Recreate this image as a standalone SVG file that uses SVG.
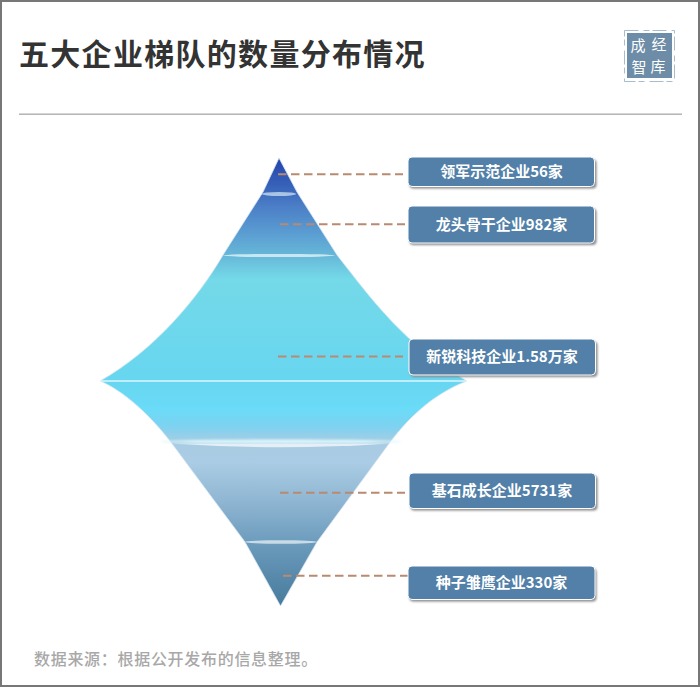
<svg xmlns="http://www.w3.org/2000/svg" width="700" height="687" viewBox="0 0 700 687">
<style>
text{font-family:"Noto Sans CJK SC","Liberation Sans",sans-serif}
.lb{fill:#fff;font-size:15px;font-weight:700;text-anchor:middle}
.box{fill:#5280a8;stroke:#fff;stroke-width:1}
.sh{fill:#8a8a8a;filter:url(#b)}
.cn{stroke:#b98a70;stroke-width:2;stroke-dasharray:8.500 4.500;fill:none}
.seal{fill:#fff;font-size:15px;text-anchor:middle}
</style>
<defs>
<filter id="b" x="-10%" y="-30%" width="120%" height="160%"><feGaussianBlur stdDeviation="0.8"/></filter>
<filter id="b2" x="-10%" y="-200%" width="120%" height="500%"><feGaussianBlur stdDeviation="0.8"/></filter>
<linearGradient id="g" gradientUnits="userSpaceOnUse" x1="0" y1="158" x2="0" y2="606">
<stop offset="0" stop-color="#2344ab"/>
<stop offset="0.07" stop-color="#3a66bb"/>
<stop offset="0.105" stop-color="#4a7dc6"/>
<stop offset="0.17" stop-color="#5b9ed2"/>
<stop offset="0.215" stop-color="#66b6d8"/>
<stop offset="0.27" stop-color="#74d9e8"/>
<stop offset="0.5" stop-color="#67d6f0"/>
<stop offset="0.56" stop-color="#6adbf8"/>
<stop offset="0.6" stop-color="#7ed2f0"/>
<stop offset="0.635" stop-color="#a8cce3"/>
<stop offset="0.68" stop-color="#aacce4"/>
<stop offset="0.78" stop-color="#8ab2cf"/>
<stop offset="0.86" stop-color="#6c9bbc"/>
<stop offset="1" stop-color="#477a9c"/>
</linearGradient>
</defs>
<rect x="1" y="1" width="698" height="685" fill="#fff" stroke="#777" stroke-width="2"/>
<g id="title"><text x="19" y="65" font-size="30" font-weight="700" fill="#333" letter-spacing="1.300">五大企业梯队的数量分布情况</text></g>
<rect x="19" y="113.500" width="663" height="1.400" fill="#aeaeae"/>
<g id="seal">
<rect x="627" y="33" width="45" height="45" fill="#6c8ca8"/>
<rect x="624.500" y="30.500" width="50" height="51" fill="none" stroke="#a9bccb" stroke-width="1" stroke-dasharray="14 5 6 3"/>
<text class="seal" x="638" y="50.500">成</text><text class="seal" x="659" y="50">经</text>
<text class="seal" x="639" y="72.500">智</text><text class="seal" x="658" y="72">库</text>
</g>
<g id="pyramid">
<path d="M279,158 L263,192 L223,255 C198,298 155,350 100,381 C122,390 150,414 173,445 L245,542 L280.500,606 L317,542 L388,445 C405,422 430,395 467,381 C405,345 372,300 337,255 L297,192 Z" fill="url(#g)" stroke="#d6e6f2" stroke-width="0.800"/>
<rect x="100" y="380.300" width="367" height="1.400" fill="#e6f7fc"/>
<ellipse cx="279" cy="194" rx="17" ry="2" fill="#d6e8f4" opacity="0.7"/>
<ellipse cx="279" cy="255.500" rx="56" ry="1.600" fill="#d8f0f6" opacity="0.85"/>
<ellipse cx="281" cy="441.500" rx="120" ry="2" fill="#d8f6fc" filter="url(#b2)"/>
<path d="M173,443.500 Q281,451 388,443.500 Z" fill="#e6eef6"/>
<ellipse cx="281" cy="542" rx="36" ry="1.800" fill="#d8e6f0" opacity="0.85"/>
</g>
<g id="connectors">
<path class="cn" d="M278,174.200H403"/>
<path class="cn" d="M280,224.300H405"/>
<path class="cn" d="M278,356.500H403"/>
<path class="cn" d="M280,492.800H405"/>
<path class="cn" d="M283,575.800H408"/>
</g>
<g id="n1"><rect class="sh" x="409.500" y="159.500" width="187" height="29" rx="4"/><rect class="box" x="408" y="157" width="186.500" height="29.500" rx="4"/><text class="lb" x="501.500" y="177">领军示范企业56家</text></g>
<g id="n2"><rect class="sh" x="409.500" y="208.500" width="187" height="36.500" rx="4"/><rect class="box" x="408" y="206" width="186.500" height="37" rx="4"/><text class="lb" x="501.500" y="230">龙头骨干企业982家</text></g>
<g id="n3"><rect class="sh" x="410.500" y="341.500" width="187" height="35.500" rx="4"/><rect class="box" x="409" y="339" width="186.500" height="36" rx="4"/><text class="lb" x="502" y="362">新锐科技企业1.58万家</text></g>
<g id="n4"><rect class="sh" x="410.500" y="475.500" width="187" height="35" rx="4"/><rect class="box" x="409" y="473" width="186.500" height="35.500" rx="4"/><text class="lb" x="502" y="496">基石成长企业5731家</text></g>
<g id="n5"><rect class="sh" x="409.500" y="568.500" width="187" height="33" rx="4"/><rect class="box" x="408" y="566" width="187" height="33.500" rx="4"/><text class="lb" x="501.500" y="588">种子雏鹰企业330家</text></g>
<g id="source"><text x="34" y="665" font-size="16" font-weight="500" fill="#a8a8a8" letter-spacing="0.700">数据来源：根据公开发布的信息整理。</text></g>
</svg>
